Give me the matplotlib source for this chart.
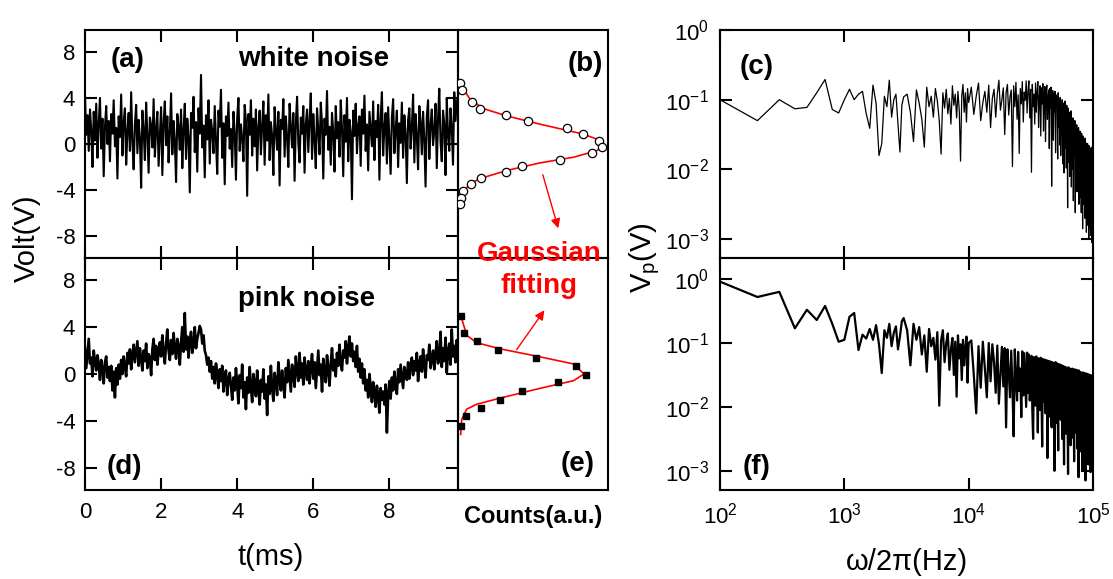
import numpy as np
import matplotlib
matplotlib.use('Agg')
import matplotlib.pyplot as plt

plt.rcParams['font.family'] = ['Liberation Sans', 'DejaVu Sans']
plt.rcParams['mathtext.fontset'] = 'custom'
plt.rcParams['mathtext.rm'] = 'Liberation Sans'
plt.rcParams['mathtext.it'] = 'Liberation Sans:italic'
plt.rcParams['axes.unicode_minus'] = False

W, H = 1113, 579

# ---- data ----
# (a) white noise, tenths of a volt
white_dv = [
    42, 8, 25, -6, 30, 12, -20, 28, 3, 35, -12, 18, 40, -4, 22, -28, 15, 33, 0, 20,
    -15, 26, 9, 38, -2, 14, -30, 24, 6, 43, -10, 19, 31, -18, 11, 27, -6, 45, 2, -22,
    17, 34, -8, 21, 5, -38, 29, 12, -14, 36, 8, -25, 23, 16, -3, 39, -11, 13, 28, -19,
    7, 32, -27, 18, 37, -1, 24, -16, 10, 44, -9, 20, 3, -33, 26, 15, -5, 30, -21, 12,
    35, -13, 22, 6, -42, 27, 14, 41, -7, 19, -24, 31, 9, 60, -3, 16, -29, 25, 4, 38,
    -17, 21, 11, -8, 33, 2, -26, 29, 15, 47, -12, 18, -35, 24, 7, 36, -4, 13, -20, 28,
    10, -31, 23, 40, -6, 17, 5, -15, 34, 20, -45, 26, 8, 38, -10, 22, -2, 30, -23, 14,
    29, -9, 16, 37, -18, 25, 3, 43, -14, 19, 7, -27, 32, 11, -5, 28, -36, 21, 13, 39,
    -11, 24, 6, -20, 35, 15, -3, 27, -32, 18, 41, 1, -16, 23, 9, 33, -25, 17, 30, -7,
    20, 44, -13, 26, 4, -21, 31, 12, -9, 36, 18, -30, 22, 8, 46, -5, 15, -18, 27, 10,
    -24, 33, 5, 19, -11, 38, 14, -28, 25, 2, 40, -15, 21, 11, -48, 29, 7, 35, -8, 16,
    24, -19, 30, 9, 42, -6, 17, -23, 28, 13, -2, 37, -14, 20, 6, 34, -31, 22, 45, -10,
    15, 27, -17, 32, 3, -26, 23, 39, -8, 12, 29, -20, 18, 1, 36, -12, 25, 9, -34, 21,
    31, -4, 14, 43, -16, 26, 7, -22, 33, 19, -9, 28, 4, -37, 24, 38, -13, 16, 30, -1,
    11, 35, -21, 22, 48, 2, -15, 29, 17, -27, 40, 8, -6, 31, 14, -18, 45, 20, 38, 26,
]

# (d) pink noise, tenths of a volt
pink_dv = [
    22, 5, 18, 30, 9, 14, -2, 20, 11, 3, 16, 8, -5, 12, 4, -8, 10, 15, -3, 6,
    -6, 7, -14, 2, -20, 5, -9, 8, -4, 12, 0, 15, 6, -2, 18, 9, 21, 4, 16, 25,
    10, 19, 28, 7, 22, 13, 3, 20, 11, 26, 5, 17, 14, -1, 21, 30, 12, 24, 8, 19,
    27, 15, 33, 18, 9, 26, 38, 20, 12, 29, 17, 35, 22, 13, 30, 24, 8, 27, 40, 19,
    52, 21, 32, 14, 28, 36, 18, 25, 40, 22, 30, 35, 41, 38, 26, 33, 20, 16, 8, 14,
    2, 11, -4, 6, -8, 9, 0, -12, 4, -6, 7, -15, -2, 3, -18, -5, 1, -10, -22, -3,
    -14, 5, -9, -25, -1, -12, 8, -20, -7, -30, -3, -16, 6, -11, -24, 0, -8, -19, 3, -13,
    -26, -5, -15, 4, -21, -9, -35, -2, -17, 7, -12, -23, 1, -6, -18, 10, -4, -14, 3, -10,
    -20, 5, -7, 12, -2, -15, 8, 0, -11, 15, 3, -6, 18, -3, 9, -9, 14, 2, -5, 11,
    -8, 6, 17, -4, 10, -12, 4, 20, -1, 8, -15, 13, 1, -7, 16, 5, -10, 9, 22, 3,
    12, -2, 18, 7, 25, 10, 3, 20, 14, 28, 9, 22, 32, 15, 26, 11, 19, 6, 24, 2,
    13, -3, 9, -8, 4, -14, -5, -20, 0, -11, -24, -7, -16, -28, -10, -19, -33, -12, -22, -15,
    -26, -9, -50, -18, -6, -21, -3, -14, 2, -10, -17, 4, -7, 8, -2, -12, 6, 1, -5, 10,
    -4, 7, 14, -1, 11, 3, 18, -6, 9, 15, 2, 21, 8, -3, 16, 12, 25, 5, 13, 20,
    4, 17, 28, 9, 14, 36, 6, 22, 11, 31, 1, 19, 26, 8, 38, 15, 24, 10, 29, 18,
]

# (b) histogram of white noise: volts, counts (a.u.)
hist_w_v = [5.26, 4.68, 3.65, 3.07, 2.5, 1.98, 1.41, 0.86, 0.29, -0.29,
            -0.8, -1.38, -1.87, -2.44, -2.96, -3.5, -4.1, -4.68, -5.17]
hist_w_c = [0.013, 0.025, 0.091, 0.147, 0.318, 0.465, 0.729, 0.831, 0.938, 0.958,
            0.895, 0.678, 0.427, 0.318, 0.155, 0.085, 0.035, 0.018, 0.013]
fit_w_v = [5.2, 5.03, 3.88, 3.07, 2.44, 1.72, 0.86, 0.43, -0.09, -0.58,
           -1.15, -1.64, -2.3, -3.0, -3.45, -4.16, -5.17]
fit_w_c = [0.013, 0.025, 0.08, 0.17, 0.325, 0.547, 0.835, 0.925, 0.973, 0.925,
           0.77, 0.547, 0.325, 0.147, 0.08, 0.035, 0.013]

# (e) histogram of pink noise
hist_p_v = [4.93, 3.53, 2.81, 2.09, 1.38, 0.71, -0.06, -0.72, -1.46, -2.2, -2.9, -3.58, -4.44]
hist_p_c = [0.018, 0.04, 0.125, 0.267, 0.522, 0.785, 0.851, 0.665, 0.425, 0.28, 0.153, 0.051, 0.022]
fit_p_v = [5.02, 3.3, 2.67, 2.15, 1.52, 0.86, 0.0, -0.57, -1.29, -2.06, -2.58, -3.0, -3.87, -5.16]
fit_p_c = [0.018, 0.058, 0.125, 0.28, 0.525, 0.77, 0.84, 0.77, 0.525, 0.28, 0.125, 0.058, 0.025, 0.018]

# spectra: log10(V) * 100 at the frequency bins below
spec_white_log = [
    -100, -130, -100, -113, -111, -90, -71, -114, -119, -100,
    -85, -100, -92, -88, -120, -141, -79, -105, -180, -163,
    -95, -110, -72, -125, -100, -92, -135, -175, -108, -96,
    -92, -118, -160, -86, -105, -128, -168, -82, -110, -95,
    -125, -84, -102, -130, -178, -90, -112, -85, -120, -98,
    -135, -80, -108, -92, -126, -88, -115, -188, -95, -78,
    -118, -90, -132, -84, -104,
    -82, -121, -95, -76, -130, -104, -88, -118, -79, -140, -98, -85, -125, -92, -72,
    -115, -100, -83, -150, -90, -78, -122, -96, -86, -196, -80, -110, -75, -128, -93,
    -177, -84, -106, -74, -132, -89, -101, -73, -119, -87,
    -73, -126, -85, -204, -78, -110, -92, -135, -76, -118, -88, -74, -140, -97, -80,
    -152, -83, -106, -77, -145, -94, -81, -160, -90, -79, -128, -99, -86, -170, -84,
    -112, -82, -224, -95, -87, -158, -91, -118, -88, -176, -93, -102, -96, -185, -90,
    -140, -98, -165,
    -97, -180, -110, -150, -100, -192, -120, -105, -205, -130, -102, -170, -115, -198, -108,
    -140, -255, -112, -125, -190, -118, -210, -122, -160, -116, -225, -135, -128, -200, -126,
    -245, -138, -132, -180, -130, -262, -140, -150, -215, -136, -232, -145, -142, -195, -140,
    -250, -148, -238,
    -145, -240, -150, -200, -262, -148, -225, -155, -285, -152, -210, -250, -158, -232, -160,
    -270, -155, -245, -215, -162, -290, -165, -238, -258, -163, -280, -168, -222, -300, -166,
    -260, -248, -170, -285, -172, -240, -295, -168, -265, -305, -175, -270, -290, -178,
]
spec_pink_log = [
    -4, -28, -20, -77, -48, -64, -42, -70, -98, -95,
    -59, -53, -111, -87, -93, -78, -95, -72, -102, -147,
    -80, -92, -70, -105, -84, -74, -110, -90, -66, -61,
    -80, -135, -70, -95, -75, -118, -88, -145, -78, -105,
    -92, -126, -83, -198, -96, -80, -130, -100, -85, -142,
    -110, -92, -150, -98, -184, -88, -124, -102, -158, -95,
    -135, -108, -90, -162, -100,
    -96, -150, -210, -105, -170, -98, -140, -185, -100, -160, -102, -130, -178, -104, -195,
    -150, -106, -168, -108, -232, -110, -145, -185, -112, -172, -246, -110, -158, -190, -114,
    -175, -140, -216, -113, -182, -116, -160, -200, -115, -178,
    -118, -190, -160, -120, -205, -250, -122, -175, -198, -121, -168, -240, -124, -185, -205,
    -123, -170, -262, -125, -192, -150, -126, -210, -180, -127, -280, -198, -128, -172, -215,
    -129, -190, -232, -130, -205, -165, -131, -300, -212, -130, -185, -225, -132, -200, -268,
    -133, -178, -215,
    -134, -220, -175, -135, -250, -200, -136, -228, -290, -137, -190, -215, -138, -242, -170,
    -139, -225, -305, -138, -205, -236, -140, -180, -260, -141, -218, -195, -140, -248, -230,
    -142, -210, -285, -141, -198, -240, -143, -225, -175, -142, -265, -215, -144, -232, -310,
    -143, -205, -238,
    -145, -242, -200, -146, -270, -220, -147, -255, -300, -146, -235, -190, -148, -262, -245,
    -147, -215, -315, -149, -250, -228, -148, -280, -205, -150, -245, -290, -149, -238, -212,
    -151, -265, -248, -150, -302, -225, -152, -255, -240, -151, -285, -230, -152, -250,
]

# sample grids (time in ms, frequency bins in Hz)
t_white = np.linspace(0, 9.8, len(white_dv))
t_pink = np.linspace(0, 9.8, len(pink_dv))
freq = np.concatenate([np.arange(100, 3001, 100),
                       np.arange(3200, 10001, 200),
                       np.arange(10500, 100001, 500)])

white_v = np.array(white_dv) / 10.0
pink_v = np.array(pink_dv) / 10.0
spec_white = 10 ** (np.array(spec_white_log) / 100.0)
spec_pink = 10 ** (np.array(spec_pink_log) / 100.0)


def rect(x0, y0, x1, y1):
    return [x0 / W, 1 - y1 / H, (x1 - x0) / W, (y1 - y0) / H]


def style(ax):
    for s in ax.spines.values():
        s.set_linewidth(1.5)
    ax.tick_params(which='both', direction='in', length=8.5, width=1.5,
                   top=True, right=True, labelsize=16, pad=7)
    ax.tick_params(which='minor', length=0)


fig = plt.figure(figsize=(W / 100, H / 100), dpi=100)

ax_a = fig.add_axes(rect(85, 30, 458, 258))
ax_d = fig.add_axes(rect(85, 258, 458, 490))
ax_b = fig.add_axes(rect(458, 30, 608, 258))
ax_e = fig.add_axes(rect(458, 258, 608, 490))
ax_c = fig.add_axes(rect(720, 30, 1093, 258))
ax_f = fig.add_axes(rect(720, 258, 1093, 490))

# time traces
ax_a.plot(t_white, white_v, color='k', lw=1.5)
ax_d.plot(t_pink, pink_v, color='k', lw=1.9)
for ax in (ax_a, ax_d):
    style(ax)
    ax.set_xlim(0, 9.8)
    ax.set_ylim(-9.9, 9.9)
    ax.set_xticks([0, 2, 4, 6, 8])
    ax.set_yticks([-8, -4, 0, 4, 8])
ax_a.tick_params(labelbottom=False)
ax_d.tick_params(axis='x', pad=9)

# histograms with gaussian fits
ax_b.plot(fit_w_c, fit_w_v, color='red', lw=1.2, zorder=2)
ax_b.plot(hist_w_c, hist_w_v, 'o', ms=6, mfc='white', mec='k', mew=0.9, zorder=3)
ax_e.plot(fit_p_c, fit_p_v, color='red', lw=1.2, zorder=2)
ax_e.plot(hist_p_c, hist_p_v, 's', ms=5, color='k', zorder=3)
for ax in (ax_b, ax_e):
    for s in ax.spines.values():
        s.set_linewidth(1.5)
    ax.set_xlim(0, 1)
    ax.set_ylim(-9.9, 9.9)
    ax.set_xticks([])
    ax.set_yticks([])
    ax.patch.set_alpha(0)

# spectra
ax_c.plot(freq, spec_white, color='k', lw=0.9)
ax_f.plot(freq, spec_pink, color='k', lw=1.6)
ax_c.set_ylim(10 ** -3.27, 1.0)
ax_f.set_ylim(10 ** -3.3, 10 ** 0.33)
for ax in (ax_c, ax_f):
    ax.set_xscale('log')
    ax.set_yscale('log')
    ax.set_xlim(1e2, 1e5)
    ax.set_xticks([1e2, 1e3, 1e4, 1e5])
    ax.set_yticks([1e-3, 1e-2, 1e-1, 1e0])
    style(ax)
    ax.tick_params(axis='y', pad=8)
ax_c.tick_params(labelbottom=False)
ax_f.tick_params(axis='x', pad=9)

# panel labels
lab = dict(fontsize=20, fontweight='bold', ha='center', va='center')
fig.text(128 / W, 1 - 60 / H, '(a)', **lab)
fig.text(314 / W, 1 - 59 / H, 'white noise', **lab)
fig.text(585 / W, 1 - 64 / H, '(b)', **lab)
fig.text(757 / W, 1 - 67 / H, '(c)', **lab)
fig.text(307 / W, 1 - 299 / H, 'pink noise', **lab)
fig.text(124 / W, 1 - 467 / H, '(d)', **lab)
fig.text(578 / W, 1 - 464 / H, '(e)', **lab)
fig.text(757 / W, 1 - 467 / H, '(f)', **lab)

fig.text(539 / W, 1 - 270 / H, 'Gaussian\nfitting', color='red', fontsize=20,
         fontweight='bold', ha='center', va='center', linespacing=1.3)
arr = dict(arrowstyle='-|>', color='red', lw=1.0, mutation_scale=14)
fig.add_artist(matplotlib.patches.FancyArrowPatch(
    (542 / W, 1 - 172 / H), (559 / W, 1 - 231 / H), transform=fig.transFigure, **arr))
fig.add_artist(matplotlib.patches.FancyArrowPatch(
    (515 / W, 1 - 352 / H), (546 / W, 1 - 308 / H), transform=fig.transFigure, **arr))

# axis titles
fig.text(27 / W, 1 - 238 / H, 'Volt(V)', fontsize=21, rotation=90, ha='center', va='center')
fig.text(271 / W, 1 - 557 / H, 't(ms)', fontsize=21, ha='center', va='center')
fig.text(533 / W, 1 - 517 / H, 'Counts(a.u.)', fontsize=17, fontweight='bold',
         ha='center', va='center')
fig.text(645 / W, 1 - 258 / H, r'V$_{\rm p}$(V)', fontsize=21, rotation=90,
         ha='center', va='center')
fig.text(907 / W, 1 - 562 / H, 'ω/2π(Hz)', fontsize=21, ha='center', va='center')

fig.savefig('out.png', dpi=100)
